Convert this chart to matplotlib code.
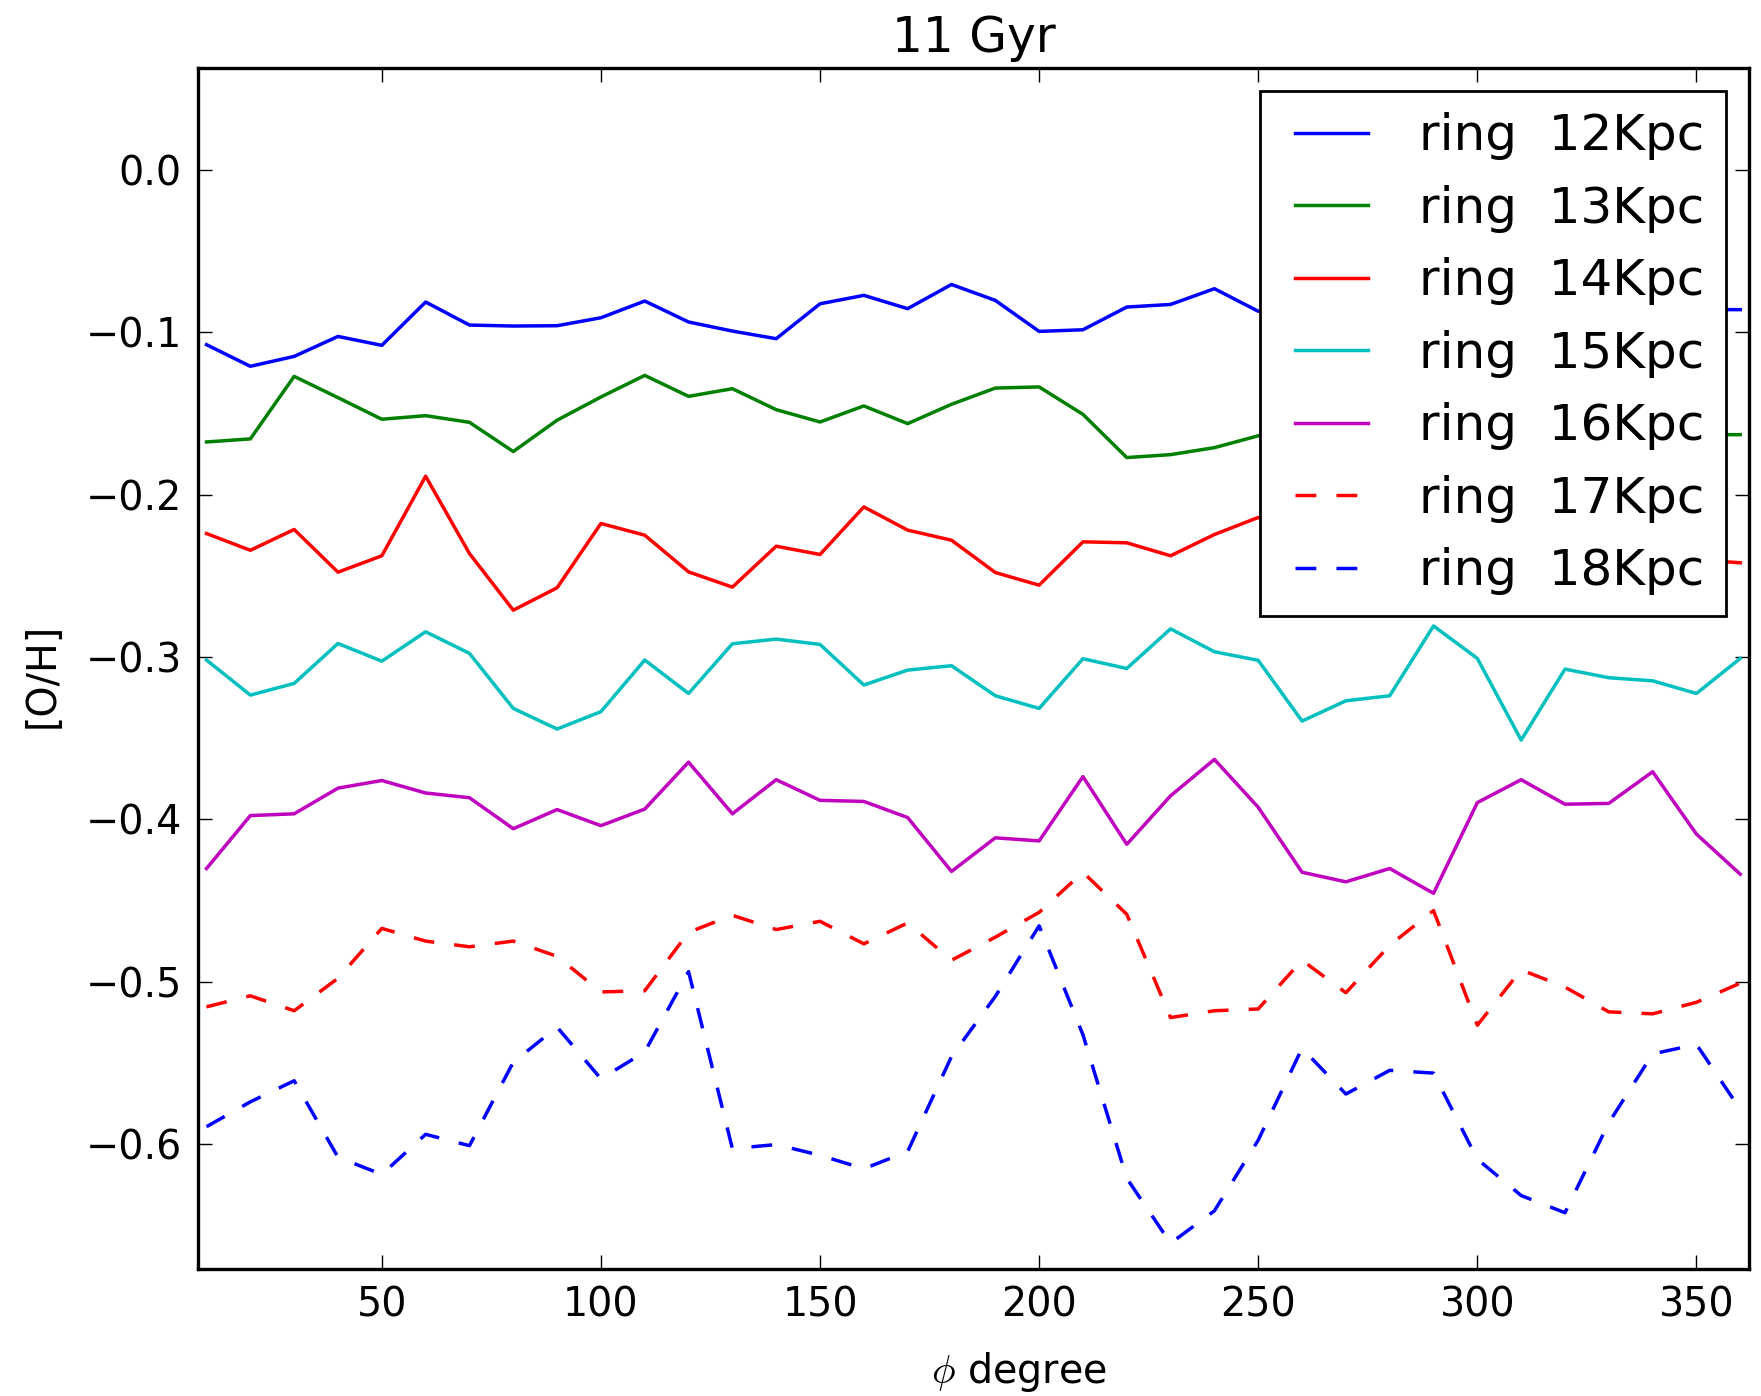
import matplotlib
matplotlib.use("Agg")
import matplotlib.pyplot as plt
from matplotlib.legend_handler import HandlerLine2D
import numpy as np

plt.rcParams['font.family'] = ['DejaVu Sans']
plt.rcParams['mathtext.fontset'] = 'cm'
plt.rcParams['lines.scale_dashes'] = False

# azimuthal angle of each bin (degrees)
phi = [10, 20, 30, 40, 50, 60, 70, 80, 90, 100, 110, 120, 130, 140, 150, 160, 170, 180,
       190, 200, 210, 220, 230, 240, 250, 260, 270, 280, 290, 300, 310, 320, 330, 340, 350, 360]

# [O/H] along each ring at 11 Gyr
ring12 = [-0.1076, -0.1209, -0.1148, -0.1025, -0.1080, -0.0813, -0.0955, -0.0961, -0.0959, -0.0910,
          -0.0807, -0.0936, -0.0992, -0.1039, -0.0824, -0.0772, -0.0854, -0.0705, -0.0803, -0.0994,
          -0.0984, -0.0844, -0.0828, -0.0731, -0.0870, -0.0900, -0.0830, -0.0780, -0.0920, -0.0880,
          -0.0800, -0.0850, -0.0940, -0.0820, -0.0860, -0.0860]
ring13 = [-0.1675, -0.1656, -0.1271, -0.1402, -0.1535, -0.1513, -0.1554, -0.1734, -0.1541, -0.1398,
          -0.1265, -0.1394, -0.1347, -0.1476, -0.1552, -0.1453, -0.1562, -0.1443, -0.1343, -0.1336,
          -0.1505, -0.1771, -0.1753, -0.1710, -0.1637, -0.1580, -0.1500, -0.1610, -0.1470, -0.1550,
          -0.1680, -0.1520, -0.1600, -0.1490, -0.1630, -0.1630]
ring14 = [-0.2239, -0.2342, -0.2214, -0.2477, -0.2376, -0.1886, -0.2362, -0.2711, -0.2573, -0.2177,
          -0.2249, -0.2475, -0.2569, -0.2317, -0.2368, -0.2075, -0.2218, -0.2280, -0.2479, -0.2557,
          -0.2290, -0.2296, -0.2376, -0.2245, -0.2140, -0.2250, -0.2320, -0.2180, -0.2400, -0.2280,
          -0.2120, -0.2360, -0.2240, -0.2310, -0.2400, -0.2419]
ring15 = [-0.3018, -0.3234, -0.3162, -0.2916, -0.3025, -0.2844, -0.2977, -0.3316, -0.3443, -0.3336,
          -0.3018, -0.3224, -0.2918, -0.2889, -0.2922, -0.3172, -0.3080, -0.3053, -0.3238, -0.3316,
          -0.3010, -0.3070, -0.2826, -0.2967, -0.3020, -0.3394, -0.3269, -0.3238, -0.2808, -0.3008,
          -0.3511, -0.3074, -0.3127, -0.3146, -0.3224, -0.3008]
ring16 = [-0.4302, -0.3976, -0.3965, -0.3807, -0.3760, -0.3837, -0.3866, -0.4057, -0.3939, -0.4038,
          -0.3936, -0.3647, -0.3965, -0.3755, -0.3882, -0.3889, -0.3988, -0.4320, -0.4113, -0.4132,
          -0.3736, -0.4153, -0.3854, -0.3630, -0.3925, -0.4325, -0.4384, -0.4302, -0.4455, -0.3896,
          -0.3755, -0.3906, -0.3901, -0.3706, -0.4090, -0.4337]
ring17 = [-0.5154, -0.5086, -0.5178, -0.4978, -0.4671, -0.4749, -0.4784, -0.4749, -0.4843, -0.5062,
          -0.5055, -0.4695, -0.4590, -0.4678, -0.4627, -0.4766, -0.4637, -0.4867, -0.4725, -0.4572,
          -0.4325, -0.4584, -0.5220, -0.5178, -0.5167, -0.4867, -0.5067, -0.4775, -0.4561, -0.5267,
          -0.4926, -0.5032, -0.5185, -0.5197, -0.5126, -0.5008]
ring18 = [-0.5892, -0.5739, -0.5609, -0.6080, -0.6186, -0.5939, -0.6009, -0.5495, -0.5279, -0.5597,
          -0.5432, -0.4937, -0.6027, -0.6002, -0.6068, -0.6151, -0.6045, -0.5460, -0.5090, -0.4655,
          -0.5326, -0.6210, -0.6610, -0.6410, -0.5975, -0.5409, -0.5691, -0.5545, -0.5562, -0.6092,
          -0.6316, -0.6422, -0.5868, -0.5444, -0.5385, -0.5786]

ring_radii = [12, 13, 14, 15, 16, 17, 18]
ring_values = [ring12, ring13, ring14, ring15, ring16, ring17, ring18]
ring_colors = [(0, 0, 1), (0, 0.5, 0), (1, 0, 0), (0, 0.75, 0.75), (0.75, 0, 0.75), (1, 0, 0), (0, 0, 1)]
ring_dashed = [False, False, False, False, False, True, True]

xticks = [50, 100, 150, 200, 250, 300, 350]
yticks = [-0.6, -0.5, -0.4, -0.3, -0.2, -0.1, 0.0]


class InsetLineHandler(HandlerLine2D):
    """Legend line that leaves a small blank margin before the sample."""
    inset = 0.27

    def create_artists(self, legend, orig_handle, xdescent, ydescent, width, height,
                       fontsize, trans):
        pad = self.inset * fontsize
        return super().create_artists(legend, orig_handle, xdescent - pad, ydescent,
                                      width - pad, height, fontsize, trans)


fig = plt.figure(figsize=(17.61, 13.96), dpi=100)
ax = fig.add_axes([0.1123, 0.0908, 0.9932 - 0.1123, 0.9515 - 0.0908])

lines = []
for r, vals, col, dashed in zip(ring_radii, ring_values, ring_colors, ring_dashed):
    kw = dict(color=col, lw=2.5, label='ring  %dKpc' % r)
    if dashed:
        kw['dashes'] = (15, 14.5)
    ln, = ax.plot(phi, vals, **kw)
    lines.append(ln)

ax.set_xlim(8, 362)
ax.set_ylim(-0.677, 0.063)
ax.set_xticks(xticks)
ax.set_yticks(yticks)
ax.tick_params(which='both', direction='in', length=10, width=1.0, top=True, right=True,
               labelsize=28.5, pad=11.5)
for s in ax.spines.values():
    s.set_linewidth(2.4)

ax.set_title('11 Gyr', fontsize=35, pad=11.5)
ax.set_xlabel(r'$\phi$ degree', fontsize=28.5)
ax.xaxis.set_label_coords(0.5295, -0.0947)
ax.xaxis.label.set_verticalalignment('baseline')
ax.set_ylabel('[O/H]', fontsize=28.5)
ax.yaxis.set_label_coords(-0.0997, 0.4946)
ax.yaxis.label.set_verticalalignment('center')
ax.yaxis.label.set_horizontalalignment('center')

handler = InsetLineHandler()
leg = ax.legend(loc='upper right', fontsize=36, handlelength=1.73, handletextpad=1.03,
                borderaxespad=0.47, borderpad=0.42, labelspacing=0.49, fancybox=False,
                framealpha=1.0, handler_map={ln: handler for ln in lines})
leg.get_frame().set_edgecolor('black')
leg.get_frame().set_linewidth(2.0)

fig.savefig('out.png', dpi=100)
